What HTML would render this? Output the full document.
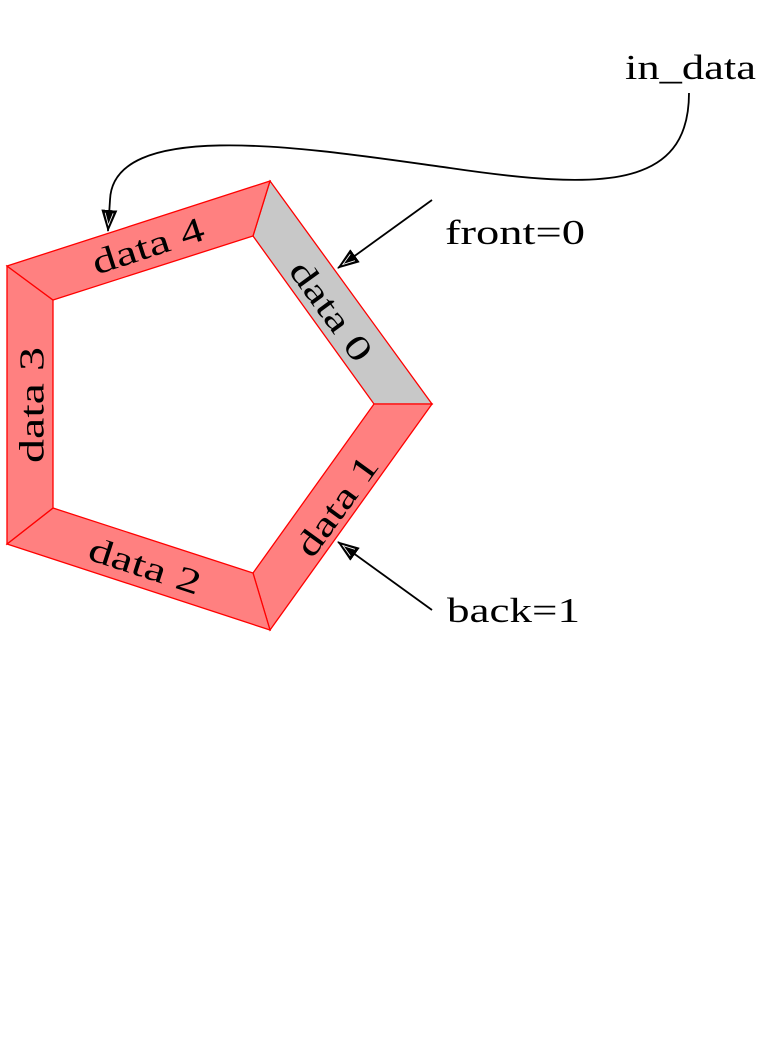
<!DOCTYPE html>
<html><head><meta charset="utf-8"><style>
html,body{margin:0;padding:0;background:#fff}
svg{display:block}
text{font-family:"Liberation Serif",serif;font-size:35px;fill:#000}
</style></head><body>
<svg width="771" height="1057" viewBox="0 0 771 1057" xmlns="http://www.w3.org/2000/svg">
<defs>
<marker id="ah" markerWidth="22" markerHeight="16" refX="21" refY="8" orient="auto" markerUnits="userSpaceOnUse" viewBox="0 0 22 16">
<path d="M0,0 L22,8 L0,16 Z" fill="#000"/>
<path d="M3,4 L15,8 L3,12" fill="none" stroke="#fff" stroke-width="0.8"/>
</marker>
</defs>
<g stroke="#f00" stroke-width="1.3" stroke-linejoin="miter">
<polygon points="270,181 432,404 374,404 253,236" fill="#c8c8c8"/>
<polygon points="432,404 270,630 253,573 374,404" fill="#ff8080"/>
<polygon points="270,630 7,544 53,508 253,573" fill="#ff8080"/>
<polygon points="7,544 7,266 53,300 53,508" fill="#ff8080"/>
<polygon points="7,266 270,181 253,236 53,300" fill="#ff8080"/>
</g>
<g text-anchor="middle" dominant-baseline="central">
<text x="0" y="0" textLength="116" lengthAdjust="spacingAndGlyphs" transform="translate(331,311) rotate(54)">data 0</text>
<text x="0" y="0" textLength="116" lengthAdjust="spacingAndGlyphs" transform="translate(337,506) rotate(-54)">data 1</text>
<text x="0" y="0" textLength="116" lengthAdjust="spacingAndGlyphs" transform="translate(145,566) rotate(18)">data 2</text>
<text x="0" y="0" textLength="116" lengthAdjust="spacingAndGlyphs" transform="translate(32,405) rotate(-90)">data 3</text>
<text x="0" y="0" textLength="116" lengthAdjust="spacingAndGlyphs" transform="translate(148,246) rotate(-18)">data 4</text>
</g>
<text x="445" y="244" textLength="140" lengthAdjust="spacingAndGlyphs">front=0</text>
<text x="447" y="622" textLength="133" lengthAdjust="spacingAndGlyphs">back=1</text>
<text x="625" y="79" textLength="131" lengthAdjust="spacingAndGlyphs">in_data</text>
<g stroke="#000" stroke-width="1.8" fill="none">
<line x1="432" y1="200" x2="338" y2="268" marker-end="url(#ah)"/>
<line x1="432" y1="610" x2="338" y2="542" marker-end="url(#ah)"/>
<path d="M689,93 C689,190 600,190 450,168 C320,150 113,115 110,200 L108,231" marker-end="url(#ah)"/>
</g>
</svg>
</body></html>
